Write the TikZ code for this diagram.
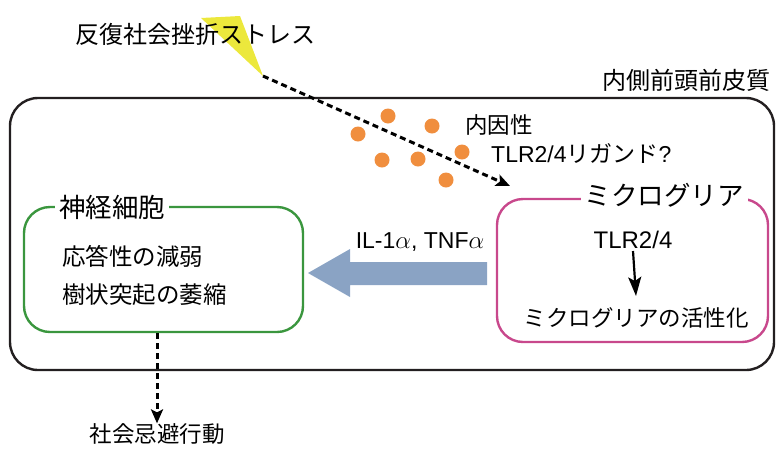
\documentclass[tikz,border=0pt]{standalone}
\usepackage{fontspec}
\setmainfont{Liberation Sans}
\newfontfamily\jp{Noto Sans CJK JP}
\usetikzlibrary{arrows.meta}
\definecolor{dotorange}{RGB}{240,142,62}
\definecolor{cellgreen}{RGB}{58,150,62}
\definecolor{micropink}{RGB}{200,72,140}
\definecolor{arrowblue}{RGB}{138,163,196}
\definecolor{conecol}{RGB}{236,232,60}
\definecolor{frame}{RGB}{35,31,32}
\begin{document}
\begin{tikzpicture}[x=1pt,y=-1pt,
  jtxt/.style={font=\jp\fontsize{22.5}{26}\selectfont, inner sep=0pt},
  jbody/.style={font=\jp\fontsize{23.5}{27}\selectfont, inner sep=0pt},
  jbig/.style={font=\jp\fontsize{26.5}{30}\selectfont, inner sep=0pt},
  ltxt/.style={font=\fontsize{23}{27}\selectfont, inner sep=0pt},
  dasharrow/.style={line width=3pt, dash pattern=on 6pt off 4pt, -{Stealth[length=14pt,width=12pt,inset=3pt]}},
  dot/.style={circle, fill=dotorange, minimum size=15pt, inner sep=0pt},
  cellbox/.style={rounded corners=26pt, line width=2.4pt, minimum width=#1},
]
\useasboundingbox (0,0) rectangle (776,448);

% stress cone and title
\fill[conecol] (201,18) -- (263,76) -- (240,16) -- cycle;
\node[font=\jp\fontsize{24}{28}\selectfont, inner sep=0pt] (title) at (195,34) {反復社会挫折ストレス};
\coordinate (conetip) at (263,76);

% prefrontal cortex frame
\node[draw=frame, line width=2.4pt, rounded corners=28pt, minimum width=764pt, minimum height=272pt] (pfc) at (392,234) {};
\node[font=\jp\fontsize{24}{28}\selectfont, inner sep=0pt, anchor=east] (pfclabel) at (771,80) {内側前頭前皮質};

% orange dots (ligands)
\node[dot] (d1) at (388,116) {};
\node[dot] (d2) at (358,134) {};
\node[dot] (d3) at (432,126) {};
\node[dot] (d4) at (382,160) {};
\node[dot] (d5) at (418,159) {};
\node[dot] (d6) at (462,152) {};
\node[dot] (d7) at (446,180) {};
\node[jtxt, anchor=west] (endo) at (465,125) {内因性};
\node[ltxt, anchor=west] (ligand) at (491,154) {TLR2/4{\jp リガンド}?};

% neuron box
\node[draw=cellgreen, cellbox=279pt, minimum height=125pt] (neuron) at (163.5,269.5) {};
\node[jbig, fill=white, inner xsep=4pt, inner ysep=2pt] (neuronlabel) at (112,207) {神経細胞};
\node[jbody, anchor=west] (n1) at (62,256) {応答性の減弱};
\node[jbody, anchor=west] (n2) at (62,295) {樹状突起の萎縮};

% microglia box
\node[draw=micropink, cellbox=271pt, minimum height=143pt] (micro) at (632.5,270.5) {};
\node[jbig, fill=white, inner xsep=4pt, inner ysep=2pt] (microlabel) at (664,195) {ミクログリア};
\node[font=\fontsize{24}{28}\selectfont, inner sep=0pt] (tlr) at (633,240) {TLR2/4};
\node[jtxt] (act) at (636,318) {ミクログリアの活性化};
\draw[line width=2.2pt, -{Stealth[length=19pt,width=13pt,inset=4pt]}] (tlr.south) ++(0,2) -- (act.north |- 0,296);

% cytokine arrow
\fill[arrowblue] (487,262) -- (350,262) -- (350,249) -- (308,273) -- (350,297) -- (350,285) -- (487,285) -- cycle;
\node[font=\fontsize{23}{27}\selectfont, inner sep=0pt] (cyto) at (420,242) {IL-1$\alpha$, TNF$\alpha$};

% stress pathway arrow
\coordinate (arrend) at (510,186);
\draw[dasharrow] (conetip) -- (arrend);

% behaviour
\node[jtxt] (behave) at (157,434) {社会忌避行動};
\draw[dasharrow] (neuron.south -| behave) -- (behave.north);
\end{tikzpicture}
\end{document}
